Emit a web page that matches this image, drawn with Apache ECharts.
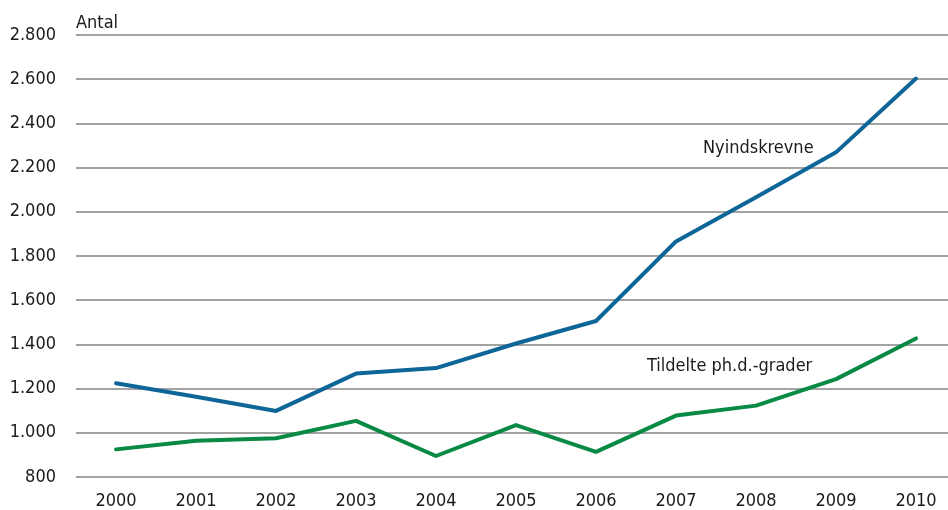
<!DOCTYPE html>
<html>
<head>
<meta charset="utf-8">
<script src="https://cdn.jsdelivr.net/npm/echarts@6/dist/echarts.min.js"></script>
<style>
html,body{margin:0;padding:0;background:#fff;}
#chart{width:948px;height:510px;}
</style>
</head>
<body>
<div id="chart"></div>
<script>
var years = [2000, 2001, 2002, 2003, 2004, 2005, 2006, 2007, 2008, 2009, 2010];
var nyindskrevne = [1224, 1163, 1099, 1268, 1293, 1404, 1506, 1866, 2066, 2269, 2603];
var tildelte = [925, 964, 975, 1054, 895, 1035, 914, 1078, 1123, 1243, 1427];
var yTicks = {min: 800, max: 2800, step: 200};
var unitLabel = 'Antal';
var seriesNames = ['Nyindskrevne', 'Tildelte ph.d.-grader'];

function pairs(vals){ return years.map(function(y, i){ return [y, vals[i]]; }); }

var FONT = '"Liberation Sans Narrow", "DejaVu Sans Condensed", "Liberation Sans", sans-serif';
var FS = 18;
var chart = echarts.init(document.getElementById('chart'));
chart.setOption({
  animation: false,
  backgroundColor: '#ffffff',
  grid: {left: 76, top: 35, width: 872, height: 442, containLabel: false, outerBoundsMode: 'none'},
  xAxis: {
    type: 'value',
    min: years[0] - 0.5,
    max: years[0] - 0.5 + 10.9,
    axisLine: {show: false},
    axisTick: {show: false},
    splitLine: {show: false},
    axisLabel: {
      color: '#1a1a1a', fontFamily: FONT, fontSize: FS, margin: 15,
      customValues: years,
      formatter: function(v){ return String(Math.round(v)); }
    }
  },
  yAxis: {
    type: 'value',
    min: yTicks.min, max: yTicks.max, interval: yTicks.step,
    axisLine: {show: false},
    axisTick: {show: false},
    splitLine: {lineStyle: {color: '#a3a3a3', width: 2}},
    axisLabel: {
      color: '#1a1a1a', fontFamily: FONT, fontSize: FS, margin: 20,
      formatter: function(v){ return String(v).replace(/\B(?=(\d{3})+(?!\d))/g, '.'); }
    }
  },
  graphic: [
    {type: 'text', left: 76, top: 14, style: {text: unitLabel, font: FS + 'px ' + FONT, fill: '#1a1a1a'}},
    {type: 'text', left: 703, top: 139, style: {text: seriesNames[0], font: FS + 'px ' + FONT, fill: '#1a1a1a'}},
    {type: 'text', left: 647, top: 357, style: {text: seriesNames[1], font: FS + 'px ' + FONT, fill: '#1a1a1a'}}
  ],
  series: [
    {name: seriesNames[0], type: 'line', data: pairs(nyindskrevne), symbol: 'none',
     lineStyle: {color: '#0d6598', width: 4, cap: 'round', join: 'round'}},
    {name: seriesNames[1], type: 'line', data: pairs(tildelte), symbol: 'none',
     lineStyle: {color: '#088a45', width: 4, cap: 'round', join: 'round'}}
  ]
});
</script>
</body>
</html>
